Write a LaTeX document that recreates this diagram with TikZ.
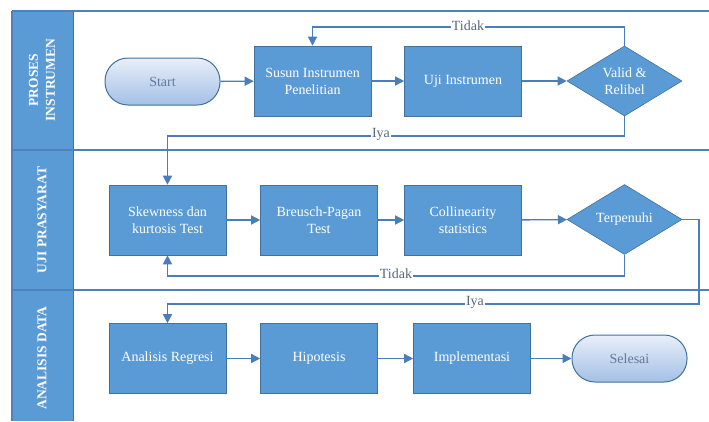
\documentclass[tikz,border=0pt]{standalone}
\usepackage{fontspec}
\setmainfont{Liberation Serif}
\usetikzlibrary{shapes.geometric,arrows.meta}
\definecolor{boxblue}{RGB}{91,155,213}
\definecolor{boxedge}{RGB}{65,113,156}
\definecolor{lineblue}{RGB}{74,126,187}
\definecolor{lanecol}{RGB}{79,129,189}
\definecolor{labelgray}{RGB}{88,102,126}
\definecolor{termtext}{RGB}{100,120,155}
\definecolor{termtop}{RGB}{232,239,249}
\definecolor{termbot}{RGB}{164,192,230}
\tikzset{
  procbox/.style={rectangle, fill=boxblue, draw=boxedge, line width=0.6pt,
    minimum width=117pt, minimum height=70pt, inner sep=2pt, text=white,
    align=center, font=\fontsize{14}{17}\selectfont},
  decision/.style={diamond, aspect=1.64, fill=boxblue, draw=boxedge, line width=0.6pt,
    minimum width=115pt, minimum height=70pt, inner sep=0pt, text=white,
    align=center, font=\fontsize{14}{17}\selectfont},
  terminal/.style={rectangle, rounded corners=23pt, top color=termtop, bottom color=termbot,
    draw=boxedge, line width=1pt, minimum width=115pt, minimum height=47pt,
    text=termtext, font=\fontsize{14}{17}\selectfont},
  conn/.style={draw=lineblue, line width=1.4pt, -{Triangle[length=9pt,width=9pt]}},
  edgelabel/.style={fill=white, inner sep=1pt, text=labelgray, font=\fontsize{14}{16}\selectfont},
  lanetitle/.style={rotate=90, text=white, align=center, font=\bfseries\fontsize{13.5}{17}\selectfont},
  laneline/.style={draw=lanecol, line width=1.6pt},
}
\begin{document}
\begin{tikzpicture}[x=1pt,y=-1pt]
\useasboundingbox (0,0) rectangle (709,421);
\fill[white] (0,0) rectangle (709,421);
% header column
\fill[boxblue] (12,11) rectangle (73,421);
\draw[boxedge, line width=0.8pt] (73,11) -- (73,421);
% lane lines
\draw[laneline] (12,11) -- (709,11);
\draw[laneline] (12,11) -- (12,421);
\draw[laneline] (12,150) -- (709,150);
\draw[laneline] (12,290) -- (709,290);
% lane titles
\node[lanetitle] (lane1) at (42,80) {PROSES\\INSTRUMEN};
\node[lanetitle] (lane2) at (42,220) {UJI PRASYARAT};
\node[lanetitle] (lane3) at (42,358) {ANALISIS DATA};
% row 1
\node[terminal] (start) at (162.5,81.5) {Start};
\node[procbox] (susun) at (312.5,81) {Susun Instrumen\\Penelitian};
\node[procbox] (uji) at (463,81) {Uji Instrumen};
\node[decision] (valid) at (624.5,81) {Valid \&\\Relibel};
% row 2
\node[procbox] (skew) at (167.5,220) {Skewness dan\\kurtosis Test};
\node[procbox] (breusch) at (319,220) {Breusch-Pagan\\Test};
\node[procbox] (coll) at (463,220) {Collinearity\\statistics};
\node[decision] (terp) at (624.5,219.5) {Terpenuhi};
% row 3
\node[procbox] (reg) at (167.5,358.5) {Analisis Regresi};
\node[procbox] (hip) at (319,358.5) {Hipotesis};
\node[procbox] (impl) at (472,358.5) {Implementasi};
\node[terminal] (selesai) at (629.5,358.5) {Selesai};
% coordinates
\coordinate (c1) at (624.5,27);
\coordinate (c2) at (624.5,136);
\coordinate (c3) at (624.5,276);
\coordinate (c4) at (699,219.5);
\coordinate (c5) at (699,304);
% connectors
\draw[conn] (start) -- (susun);
\draw[conn] (susun) -- (uji);
\draw[conn] (uji) -- (valid);
\draw[conn] (valid.north) -- (c1) -| (susun.north);
\draw[conn] (valid.south) -- (c2) -| (skew.north);
\draw[conn] (skew) -- (breusch);
\draw[conn] (breusch) -- (coll);
\draw[conn] (coll) -- (terp);
\draw[conn] (terp.south) -- (c3) -| (skew.south);
\draw[conn] (terp.east) -- (c4) -- (c5) -| (reg.north);
\draw[conn] (reg) -- (hip);
\draw[conn] (hip) -- (impl);
\draw[conn] (impl) -- (selesai);
% labels
\node[edgelabel] (l1) at (468,26) {Tidak};
\node[edgelabel] (l2) at (381,134) {Iya};
\node[edgelabel] (l3) at (396,274) {Tidak};
\node[edgelabel] (l4) at (475,302) {Iya};
\end{tikzpicture}
\end{document}
